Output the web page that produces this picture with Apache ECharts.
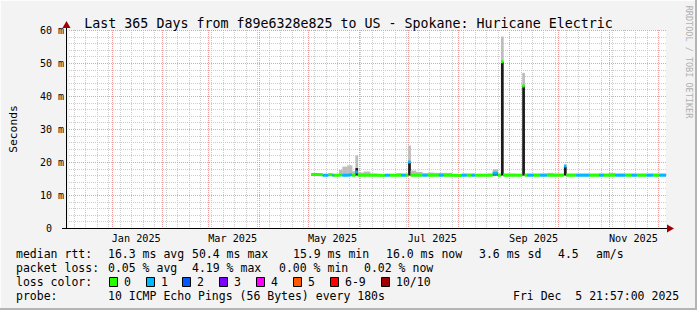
<!DOCTYPE html>
<html><head><meta charset="utf-8">
<script src="https://cdn.jsdelivr.net/npm/echarts@6/dist/echarts.min.js"></script>
<style>
html,body{margin:0;padding:0;background:#f3f3f3;}
#c{width:697px;height:310px;box-sizing:border-box;background:#f3f3f3;box-shadow:inset -2px -2px 0 #b4b4b4, inset 1px 1px 0 #fdfdfd;}
</style></head><body><div id="c"></div>
<script>
// ---- data ----
const sampleTimes = ['2025-05-03T00:00','2025-05-06T00:00','2025-05-10T00:00','2025-05-13T12:00','2025-05-16T00:00','2025-05-17T00:00','2025-05-20T00:00','2025-05-22T00:00','2025-05-25T00:00','2025-05-28T00:00','2025-05-30T00:00','2025-05-31T12:00','2025-06-04T00:00','2025-06-08T00:00','2025-06-12T00:00','2025-06-17T00:00','2025-06-20T00:00','2025-06-24T00:00','2025-06-27T00:00','2025-06-30T00:00','2025-07-01T06:00','2025-07-02T18:00','2025-07-06T00:00','2025-07-10T00:00','2025-07-13T00:00','2025-07-17T00:00','2025-07-20T00:00','2025-07-23T00:00','2025-07-28T00:00','2025-08-03T00:00','2025-08-06T00:00','2025-08-09T00:00','2025-08-11T00:00','2025-08-15T00:00','2025-08-19T00:00','2025-08-22T00:00','2025-08-25T00:00','2025-08-27T00:00','2025-08-28T12:00','2025-09-01T00:00','2025-09-05T00:00','2025-09-09T00:00','2025-09-10T12:00','2025-09-12T00:00','2025-09-16T00:00','2025-09-20T00:00','2025-09-24T00:00','2025-09-28T00:00','2025-10-01T00:00','2025-10-04T12:00','2025-10-06T00:00','2025-10-09T00:00','2025-10-12T00:00','2025-10-20T00:00','2025-10-26T00:00','2025-10-29T00:00','2025-11-01T00:00','2025-11-05T00:00','2025-11-11T00:00','2025-11-15T00:00','2025-11-18T00:00','2025-11-21T00:00','2025-11-24T00:00','2025-11-28T00:00','2025-12-02T00:00','2025-12-05T21:57'];
// median rtt in ms
const medianMs = [16.2,16.1,16.0,16.1,16.0,16.0,16.1,16.0,16.1,16.0,17.0,16.0,16.0,16.0,15.9,16.0,16.0,16.0,16.0,16.0,20.0,16.0,16.0,16.0,16.0,16.0,16.0,16.0,15.9,16.0,16.0,16.0,16.0,16.0,16.0,16.6,16.0,50.4,16.0,16.0,16.0,43.0,16.0,16.0,16.0,16.0,16.0,16.0,16.0,18.8,16.0,16.0,16.0,16.0,16.0,16.0,16.0,16.0,16.0,16.0,16.0,16.0,16.0,16.0,16.0,16.0];
// loss class index (0 = no loss, 1 = 1 of 10 lost ...)
const lossClass = [0,0,1,0,1,0,0,1,1,0,1,0,0,0,0,1,0,0,1,0,1,0,0,1,0,0,1,0,0,1,0,1,0,0,0,1,0,0,0,0,0,0,0,1,0,1,0,0,0,1,0,0,1,0,1,0,0,1,0,1,0,0,1,0,1,1];
// smoke: lowest ping, top of dense smoke, highest ping (ms)
const smokeLow  = [15.9,15.9,15.9,15.9,15.9,15.9,15.9,15.9,15.9,15.9,15.9,15.9,15.9,15.9,15.8,15.9,15.9,15.9,15.9,15.9,15.9,15.9,15.9,15.9,15.9,15.9,15.9,15.9,15.8,15.9,15.9,15.9,15.9,15.9,15.9,15.9,15.9,15.9,15.9,15.9,15.9,15.9,15.9,15.9,15.9,15.9,15.9,15.9,15.9,15.9,15.9,15.9,15.9,15.9,15.9,15.9,15.9,15.9,15.9,15.9,15.9,15.9,15.9,15.9,15.9,15.9];
const smokeCore = [16.2,16.1,16.1,16.1,16.1,16.1,16.2,16.2,16.3,16.1,18.2,16.1,16.1,16.1,16.0,16.1,16.1,16.1,16.1,16.1,19.8,16.2,16.1,16.1,16.1,16.1,16.1,16.1,16.0,16.1,16.1,16.1,16.1,16.1,16.1,16.8,16.1,50.4,16.1,16.1,16.1,43.0,16.1,16.1,16.1,16.1,16.1,16.1,16.1,18.5,16.1,16.1,16.1,16.1,16.1,16.1,16.1,16.1,16.1,16.1,16.1,16.1,16.1,16.1,16.1,16.1];
const smokeHigh = [16.6,16.5,16.4,16.5,16.4,16.4,17.6,18.6,19.0,17.2,22.0,16.8,17.1,16.5,16.4,16.4,16.4,16.6,16.5,16.5,25.0,17.4,17.0,16.6,16.8,16.7,16.7,16.7,16.4,16.5,16.5,16.5,16.4,16.4,16.5,17.8,16.5,58.0,16.5,16.5,16.4,47.0,16.5,16.5,16.5,16.5,16.7,16.5,16.5,19.1,16.5,16.5,16.5,16.5,16.5,16.5,16.7,16.5,16.5,16.5,16.5,16.5,16.5,16.5,16.5,16.5];

const rangeStart = '2024-12-05T21:57';
const rangeEnd   = '2025-12-05T21:57';
const xLabelTexts = ['Jan 2025','Mar 2025','May 2025','Jul 2025','Sep 2025','Nov 2025'];
const xLabelDates = ['2025-01-16T00:00','2025-03-16T00:00','2025-05-16T00:00','2025-07-16T00:00','2025-09-16T00:00','2025-11-16T00:00'];
const yTicks = [0,10,20,30,40,50,60];

const lossColors = ['#26ff00','#00b8ff','#0059ff','#7e00ff','#ff00ff','#ff5a00','#ff0000','#a10000'];
const lossLabels = ['0','1','2','3','4','5','6-9','10/10'];
const rttStats  = ['16.3 ms avg','50.4 ms max','15.9 ms min','16.0 ms now','3.6 ms sd','4.5','am/s'];
const lossStats = ['0.05 % avg','4.19 % max','0.00 % min','0.02 % now'];
const titleText = 'Last 365 Days from f89e6328e825 to US - Spokane: Huricane Electric';
const probeText = '10 ICMP Echo Pings (56 Bytes) every 180s';
const dateText  = 'Fri Dec\u00a0\u00a05 21:57:00 2025';

// ---- build ----
const T = s => Date.parse(s + ':00Z');
const ts = sampleTimes.map(T);
const xMin = T(rangeStart), xMax = T(rangeEnd);

// median line pieces per loss class
const perClass = lossColors.map(() => []);
for (let i = 0; i < ts.length - 1; i++) {
  const c = lossClass[i], arr = perClass[c], v = medianMs[i];
  const joined = i > 0 && lossClass[i-1] === c && Math.abs(medianMs[i-1] - v) < 1;
  if (!joined && arr.length) arr.push([ts[i], '-']);
  arr.push([ts[i], v], [ts[i+1], v]);
}

// grid line positions
const DAY = 86400000;
const vMinor = [], vMajor = [];
for (let t = T('2024-12-09T00:00'); t < xMax; t += 7*DAY) vMinor.push(t);
for (let m = 0; m < 12; m++) vMajor.push(Date.UTC(2025, m, 1));
const hMinor = [], hMajor = [];
for (let v = 2; v < 60; v += 2) if (v % 10) hMinor.push(v);
for (let v = 10; v <= 60; v += 10) hMajor.push(v);

function gridLines(values, vertical, color, z) {
  return {type:'custom', z, silent:true, animation:false, clip:false,
    data: values.map(v => vertical ? [v, 0] : [xMin, v]),
    encode:{x:0, y:1},
    renderItem:(params, api) => {
      const cs = params.coordSys;
      const p = api.coord([api.value(0), api.value(1)]);
      if (vertical) {
        const x = Math.round(p[0]) + 0.5;
        return {type:'line', shape:{x1:x, y1:cs.y, x2:x, y2:cs.y + cs.height},
          style:{stroke:color, lineWidth:1, lineDash:[1,1], fill:null}};
      }
      const y = Math.round(p[1]) + 0.5;
      return {type:'line', shape:{x1:cs.x, y1:y, x2:cs.x + cs.width, y2:y},
        style:{stroke:color, lineWidth:1, lineDash:[1,1], fill:null}};
    }};
}

const smokeData = ts.slice(0, -1).map((t, i) => [t, ts[i+1], smokeLow[i], smokeCore[i], smokeHigh[i]]);
const smokeSeries = {type:'custom', z:3, silent:true, animation:false,
  data: smokeData, encode:{x:[0,1], y:[2,3,4]},
  renderItem:(params, api) => {
    const a = api.coord([api.value(0), api.value(2)]);
    const b = api.coord([api.value(1), api.value(3)]);
    const c = api.coord([api.value(1), api.value(4)]);
    const x0 = a[0], w = b[0] - a[0] + 0.3;
    return {type:'group', children:[
      {type:'rect', shape:{x:x0, y:b[1], width:w, height:a[1] - b[1]}, style:{fill:'#1c1c1c'}},
      {type:'rect', shape:{x:x0, y:c[1], width:w, height:b[1] - c[1]}, style:{fill:'#bdbdbd'}}
    ]};
  }};

const mono = '"DejaVu Sans Mono", monospace';
const series = [
  gridLines(vMinor, true, '#cccccc', 1),
  gridLines(hMinor, false, '#cccccc', 1),
  gridLines(vMajor, true, '#f19c9c', 2),
  gridLines(hMajor, false, '#f19c9c', 2),
  smokeSeries
];
perClass.forEach((arr, c) => {
  if (!arr.length) return;
  series.push({type:'line', name:'loss'+c, data:arr, symbol:'none', z:5, connectNulls:false,
    lineStyle:{width:3, color:lossColors[c], cap:'butt'}, silent:true, animation:false});
});

// graphic: axes arrows, texts, legend
const g = [];
g.push({type:'line', shape:{x1:66.5,y1:229,x2:66.5,y2:26}, style:{stroke:'#000',lineWidth:1}, z:10});
g.push({type:'polygon', shape:{points:[[62.5,28],[70.5,28],[66.5,21]]}, style:{fill:'#a00000'}, z:10});
g.push({type:'line', shape:{x1:62,y1:228.5,x2:669,y2:228.5}, style:{stroke:'#000',lineWidth:1}, z:10});
g.push({type:'polygon', shape:{points:[[667,224.5],[667,232.5],[674,228.5]]}, style:{fill:'#a00000'}, z:10});
g.push({type:'text', x:689, y:62, rotation:-Math.PI/2,
  style:{text:'RRDTOOL / TOBI OETIKER', font:'8.5px '+mono, fill:'#b0b0b0', align:'center', verticalAlign:'middle'}});
const lf = '11.5px ' + mono;
const txt = (text, x, y) => g.push({type:'text', x, y, style:{text, font:lf, fill:'#000', verticalAlign:'middle'}});
txt('median rtt:', 16, 254);
[108,192,293,386,479,558,596].forEach((x,i) => txt(rttStats[i], x, 254));
txt('packet loss:', 16, 268);
[108,192,279,364].forEach((x,i) => txt(lossStats[i], x, 268));
txt('loss color:', 16, 282);
[109,146,182,219,256,293,330,381].forEach((x,i) => {
  g.push({type:'rect', shape:{x:x+0.5, y:277.5, width:8, height:9}, style:{fill:lossColors[i], stroke:'#000', lineWidth:1}});
  txt(lossLabels[i], x + 15, 282);
});
txt('probe:', 16, 296);
txt(probeText, 108, 296);
txt(dateText, 513, 296);

const chart = echarts.init(document.getElementById('c'), null, {renderer:'svg'});
chart.setOption({
  backgroundColor:'transparent',
  animation:false,
  title:{text:titleText, left:'center', top:12, textStyle:{fontFamily:mono, fontSize:13.3, fontWeight:'normal', color:'#000'}},
  grid:{left:66, top:30, width:600, height:198, show:true, backgroundColor:'#ffffff', borderWidth:0},
  xAxis:{type:'value', min:xMin, max:xMax,
    axisLine:{show:false}, axisTick:{show:false}, splitLine:{show:false},
    axisLabel:{customValues:xLabelDates.map(T), margin:5, fontFamily:mono, fontSize:10.2, color:'#000',
      formatter:v => { const k = xLabelDates.map(T).indexOf(v); return k >= 0 ? xLabelTexts[k] : ''; }}},
  yAxis:{type:'value', min:0, max:60, interval:10,
    axisLine:{show:false}, axisTick:{show:false}, splitLine:{show:false},
    name:'Seconds', nameLocation:'middle', nameGap:50, nameTextStyle:{fontFamily:mono, fontSize:11.3, color:'#000'},
    axisLabel:{margin:5, fontFamily:mono, fontSize:10, color:'#000',
      customValues:yTicks,
      formatter:v => v === 0 ? '0\u00a0\u00a0' : v + ' m'}},
  series,
  graphic:g
});
</script></body></html>
